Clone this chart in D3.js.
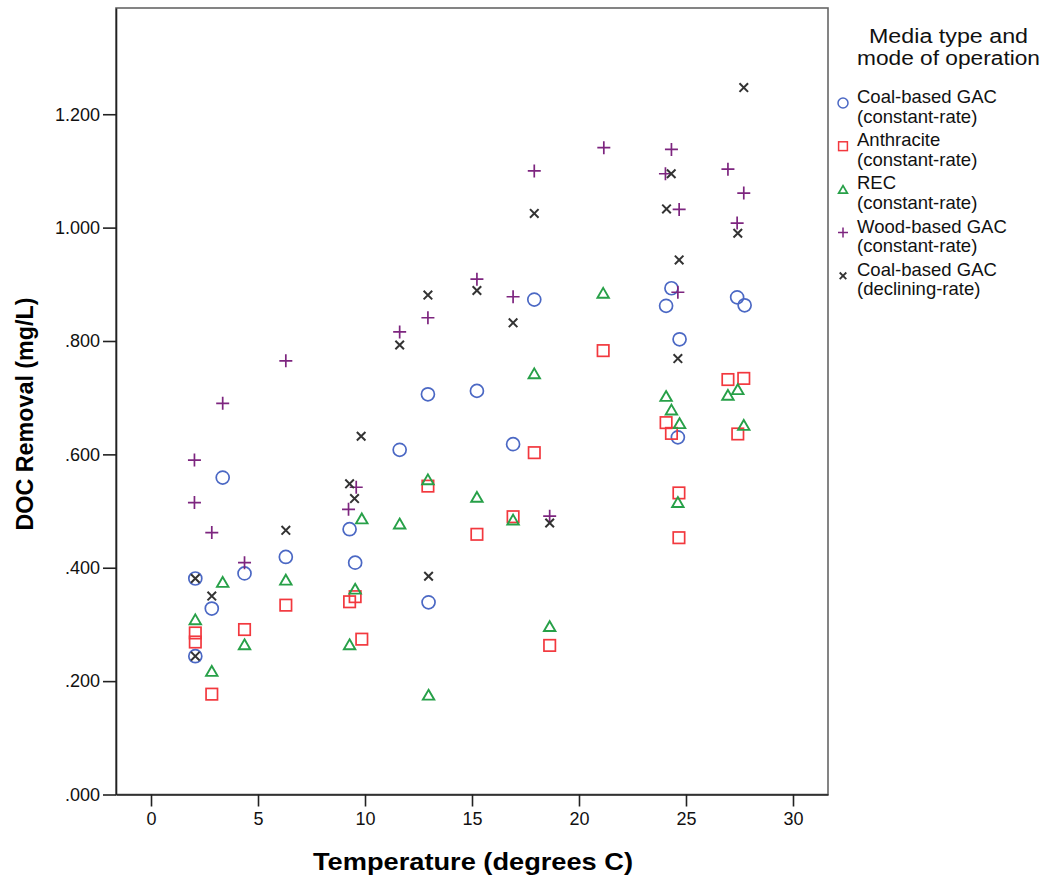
<!DOCTYPE html>
<html>
<head>
<meta charset="utf-8">
<script src="https://cdn.jsdelivr.net/npm/d3@7"></script>
<style>
  html, body { margin: 0; padding: 0; background: #fff; }
  svg { display: block; font-family: "Liberation Sans", Arial, sans-serif; }
</style>
</head>
<body>
<svg id="chart" width="1044" height="876"></svg>
<script>
// ---- Data ----
const coalConstant = [
  [2.07, 0.381], [2.07, 0.244], [2.84, 0.328], [3.35, 0.559], [4.37, 0.390],
  [6.30, 0.419], [9.28, 0.468], [9.54, 0.409], [11.62, 0.608], [12.94, 0.706],
  [12.97, 0.339], [15.23, 0.712], [16.92, 0.618], [17.91, 0.873], [24.07, 0.862],
  [24.32, 0.893], [24.62, 0.630], [24.70, 0.803], [27.39, 0.877], [27.74, 0.863]
];
const anthracite = [
  [2.07, 0.285], [2.07, 0.269], [2.84, 0.177], [4.37, 0.291], [6.30, 0.334],
  [9.28, 0.340], [9.54, 0.349], [9.85, 0.274], [12.94, 0.544], [15.23, 0.459],
  [16.92, 0.490], [17.91, 0.603], [18.63, 0.263], [21.13, 0.783], [24.07, 0.656],
  [24.32, 0.637], [24.67, 0.532], [24.67, 0.453], [26.96, 0.732], [27.42, 0.636],
  [27.70, 0.734]
];
const rec = [
  [2.07, 0.309], [2.84, 0.218], [3.35, 0.375], [4.37, 0.265], [6.30, 0.379],
  [9.28, 0.265], [9.54, 0.363], [9.85, 0.487], [11.62, 0.478], [12.94, 0.556],
  [12.97, 0.176], [15.23, 0.525], [16.92, 0.485], [17.91, 0.743], [18.63, 0.297],
  [21.13, 0.885], [24.07, 0.703], [24.32, 0.679], [24.70, 0.655], [24.62, 0.516],
  [26.96, 0.705], [27.42, 0.715], [27.70, 0.652]
];
const woodConstant = [
  [2.03, 0.590], [2.03, 0.515], [2.84, 0.462], [3.35, 0.690], [4.37, 0.409],
  [6.30, 0.765], [9.23, 0.503], [9.59, 0.542], [11.62, 0.816], [12.94, 0.841],
  [15.23, 0.909], [16.92, 0.878], [17.91, 1.100], [18.63, 0.491], [21.16, 1.141],
  [24.04, 1.095], [24.32, 1.138], [24.68, 1.032], [24.62, 0.886], [26.96, 1.103],
  [27.39, 1.008], [27.70, 1.061]
];
const coalDeclining = [
  [2.07, 0.381], [2.07, 0.244], [2.84, 0.350], [6.30, 0.466], [9.28, 0.548],
  [9.51, 0.522], [9.82, 0.632], [11.62, 0.793], [12.94, 0.881], [12.97, 0.385],
  [15.23, 0.889], [16.92, 0.832], [17.91, 1.025], [18.63, 0.479], [24.09, 1.033],
  [24.31, 1.095], [24.68, 0.943], [24.62, 0.769], [27.42, 0.990], [27.70, 1.247]
];

const seriesNames = [
  ["Coal-based GAC", "(constant-rate)"],
  ["Anthracite", "(constant-rate)"],
  ["REC", "(constant-rate)"],
  ["Wood-based GAC", "(constant-rate)"],
  ["Coal-based GAC", "(declining-rate)"]
];
const seriesData = [coalConstant, anthracite, rec, woodConstant, coalDeclining];
const seriesColors = ["#4b68c4", "#f2383e", "#27a048", "#7d257f", "#333333"];
const seriesShapes = ["circle", "square", "triangle", "plus", "cross"];

const xTicks = [0, 5, 10, 15, 20, 25, 30];
const yTicks = [0, 0.2, 0.4, 0.6, 0.8, 1.0, 1.2];
const xTitle = "Temperature (degrees C)";
const yTitle = "DOC Removal (mg/L)";
const legendTitle = ["Media type and", "mode of operation"];

// ---- Layout ----
const svg = d3.select("#chart");
const plot = { left: 116, right: 828, top: 8, bottom: 794.5 };

const x = d3.scaleLinear().domain([-1.636, 31.636]).range([plot.left, plot.right]);
const y = d3.scaleLinear().domain([0, 1.3874]).range([plot.bottom, plot.top]);

// frame
svg.append("rect")
  .attr("x", plot.left).attr("y", plot.top)
  .attr("width", plot.right - plot.left).attr("height", plot.bottom - plot.top)
  .attr("fill", "none").attr("stroke", "#666").attr("stroke-width", 1.6);

// axes
const yAxis = d3.axisLeft(y).tickValues(yTicks).tickSize(13).tickSizeOuter(0).tickPadding(3)
  .tickFormat(d => d3.format(".3f")(d).replace(/^0/, ""));
const xAxis = d3.axisBottom(x).tickValues(xTicks).tickSize(12).tickSizeOuter(0).tickPadding(6)
  .tickFormat(d3.format("d"));

const gy = svg.append("g").attr("transform", `translate(${plot.left},0)`).call(yAxis);
const gx = svg.append("g").attr("transform", `translate(0,${plot.bottom})`).call(xAxis);
[gx, gy].forEach(g => {
  g.select(".domain").attr("stroke", "#222").attr("stroke-width", 1.6);
  g.selectAll(".tick line").attr("stroke", "#222").attr("stroke-width", 1.6);
  g.selectAll(".tick text").attr("fill", "#111")
    .style("font-family", '"Liberation Sans", Arial, sans-serif').style("font-size", "18px");
});

// axis titles
svg.append("text")
  .attr("x", 473).attr("y", 870).attr("text-anchor", "middle")
  .attr("textLength", 320).attr("lengthAdjust", "spacingAndGlyphs")
  .style("font-size", "24px").style("font-weight", "bold").attr("fill", "#000")
  .text(xTitle);
svg.append("text")
  .attr("transform", "translate(33,414) rotate(-90)").attr("text-anchor", "middle")
  .attr("textLength", 233).attr("lengthAdjust", "spacingAndGlyphs")
  .style("font-size", "23px").style("font-weight", "bold").attr("fill", "#000")
  .text(yTitle);

// marker drawing
function drawMarker(g, shape, cx, cy, color, s, sw) {
  if (shape === "circle") {
    g.append("circle").attr("cx", cx).attr("cy", cy).attr("r", s * 0.5)
      .attr("fill", "none").attr("stroke", color).attr("stroke-width", sw);
  } else if (shape === "square") {
    const h = s * 0.44;
    g.append("rect").attr("x", cx - h).attr("y", cy - h).attr("width", 2 * h).attr("height", 2 * h)
      .attr("fill", "none").attr("stroke", color).attr("stroke-width", sw);
  } else if (shape === "triangle") {
    const w = s * 0.44, ht = s * 0.38;
    g.append("path").attr("d", `M${cx},${cy - ht}L${cx + w},${cy + ht}L${cx - w},${cy + ht}Z`)
      .attr("fill", "none").attr("stroke", color).attr("stroke-width", sw + 0.2);
  } else if (shape === "plus") {
    const a = s * 0.5;
    g.append("path").attr("d", `M${cx - a},${cy}H${cx + a}M${cx},${cy - a}V${cy + a}`)
      .attr("fill", "none").attr("stroke", color).attr("stroke-width", sw);
  } else if (shape === "cross") {
    const a = s * 0.33;
    g.append("path").attr("d", `M${cx - a},${cy - a}L${cx + a},${cy + a}M${cx - a},${cy + a}L${cx + a},${cy - a}`)
      .attr("fill", "none").attr("stroke", color).attr("stroke-width", sw + 0.3);
  }
}

// points
const pts = svg.append("g");
seriesData.forEach((data, i) => {
  const g = pts.append("g");
  data.forEach(d => drawMarker(g, seriesShapes[i], x(d[0]), y(d[1]), seriesColors[i], 13, 1.7));
});

// legend
const lg = svg.append("g");
lg.append("text").attr("x", 948.5).attr("y", 43).attr("text-anchor", "middle")
  .attr("textLength", 159).attr("lengthAdjust", "spacingAndGlyphs")
  .style("font-size", "19.5px").attr("fill", "#111").text(legendTitle[0]);
lg.append("text").attr("x", 948.5).attr("y", 65).attr("text-anchor", "middle")
  .attr("textLength", 183).attr("lengthAdjust", "spacingAndGlyphs")
  .style("font-size", "19.5px").attr("fill", "#111").text(legendTitle[1]);

seriesNames.forEach((nm, i) => {
  const by = 103 + i * 43.2;
  drawMarker(lg, seriesShapes[i], 843, by, seriesColors[i], 10, 1.5);
  lg.append("text").attr("x", 857).attr("y", by).style("font-size", "18.5px").attr("fill", "#111").text(nm[0]);
  lg.append("text").attr("x", 857).attr("y", by + 19.5).style("font-size", "18.5px").attr("fill", "#111").text(nm[1]);
});
</script>
</body>
</html>
